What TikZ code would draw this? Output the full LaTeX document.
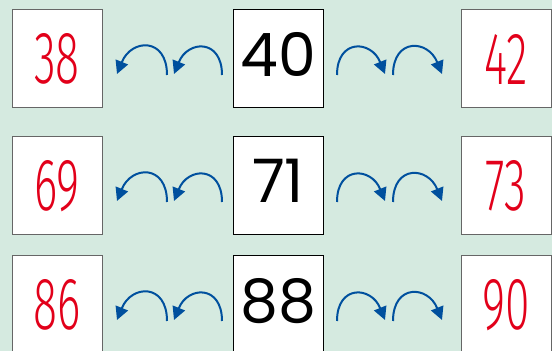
\documentclass[tikz,border=0pt]{standalone}
\usepackage{fontspec}
\newfontfamily\rojofont{Fira Sans Light}[FakeStretch=0.6]
\newfontfamily\negrofont{Poppins}
\usetikzlibrary{positioning,arrows.meta}
\definecolor{fondo}{RGB}{213,234,224}
\definecolor{rojo}{RGB}{226,0,26}
\definecolor{azul}{RGB}{0,80,158}

\begin{document}
\begin{tikzpicture}[x=1pt, y=1pt, node distance=131pt and 131pt,
  caja/.style={draw=black, line width=1pt, fill=white, minimum width=90pt, minimum height=98pt, inner sep=0pt, outer sep=0pt},
  pista/.style={caja, draw=black!60, text=rojo, font=\rojofont\fontsize{74}{74}\selectfont},
  dato/.style={caja, text depth=10pt, font=\negrofont\fontsize{60}{60}\selectfont},
  saltoizq/.style={azul, line width=2pt, -{Triangle[length=13pt,width=13pt]}, out=90, in=68, looseness=1.95},
  saltoder/.style={azul, line width=2pt, -{Triangle[length=13pt,width=13pt]}, out=90, in=112, looseness=1.95}]
\fill[fondo] (0,0) rectangle (552,351);
\useasboundingbox (0,0) rectangle (552,351);
\clip (0,0) rectangle (552,351);
\node[dato] (b1) at (278,292) {40};
\node[dato] (b2) at (278,165) {71};
\node[dato] (b3) at (278,46) {88};
\node[pista, left=131pt of b1] (a1) {38};
\node[pista, left=131pt of b2] (a2) {69};
\node[pista, left=131pt of b3] (a3) {86};
\node[pista, right=138pt of b1] (c1) {42};
\node[pista, right=138pt of b2] (c2) {73};
\node[pista, right=138pt of b3] (c3) {90};
\draw[saltoizq] ([shift={(-11,-16)}]b1.west) to ([shift={(-59,-15)}]b1.west); \draw[saltoizq] ([shift={(-66,-16)}]b1.west) to ([shift={(-116,-15)}]b1.west);
\draw[saltoder] ([shift={(14,-16)}]b1.east) to ([shift={(62,-15)}]b1.east); \draw[saltoder] ([shift={(70,-16)}]b1.east) to ([shift={(119,-15)}]b1.east);
\draw[saltoizq] ([shift={(-11,-16)}]b2.west) to ([shift={(-59,-15)}]b2.west); \draw[saltoizq] ([shift={(-66,-16)}]b2.west) to ([shift={(-116,-15)}]b2.west);
\draw[saltoder] ([shift={(14,-16)}]b2.east) to ([shift={(62,-15)}]b2.east); \draw[saltoder] ([shift={(70,-16)}]b2.east) to ([shift={(119,-15)}]b2.east);
\draw[saltoizq] ([shift={(-11,-16)}]b3.west) to ([shift={(-59,-15)}]b3.west); \draw[saltoizq] ([shift={(-66,-16)}]b3.west) to ([shift={(-116,-15)}]b3.west);
\draw[saltoder] ([shift={(14,-16)}]b3.east) to ([shift={(62,-15)}]b3.east); \draw[saltoder] ([shift={(70,-16)}]b3.east) to ([shift={(119,-15)}]b3.east);
\end{tikzpicture}
\end{document}
